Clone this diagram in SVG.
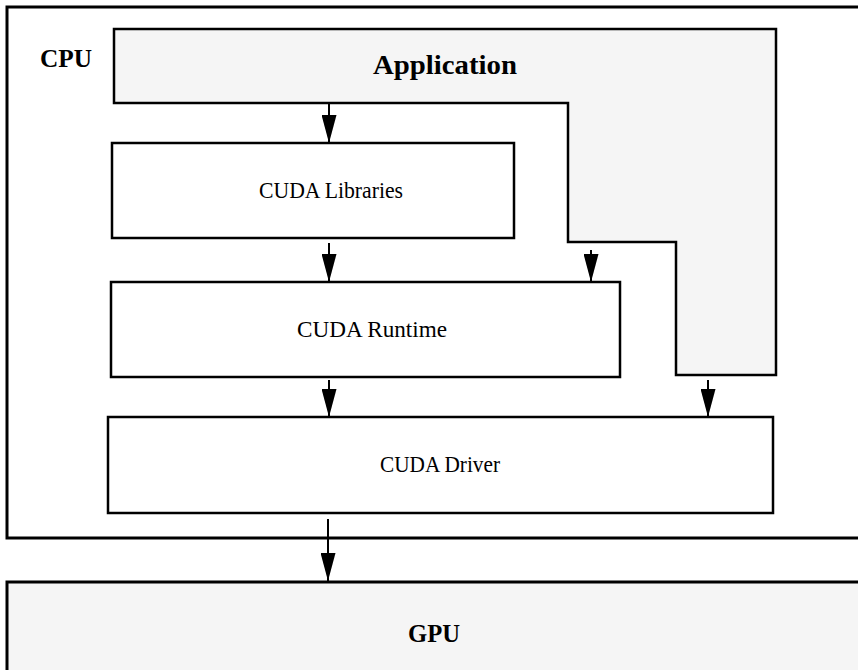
<svg xmlns="http://www.w3.org/2000/svg" width="858" height="670" viewBox="0 0 858 670">
<defs>
<style>
.box{fill:#ffffff;stroke:#000;stroke-width:2.5}
.gray{fill:#f5f5f5;stroke:#000;stroke-width:2.5}
.outer{fill:#ffffff;stroke:#000;stroke-width:3}
.lbl{font-family:"Liberation Serif","Times New Roman",serif;font-size:24px;fill:#000;text-anchor:middle}
.bold{font-family:"Liberation Serif","Times New Roman",serif;font-weight:bold;fill:#000;text-anchor:middle}
.conn{stroke:#000;stroke-width:2;fill:none;marker-end:url(#ah)}
</style>
<marker id="ah" markerUnits="userSpaceOnUse" viewBox="0 0 28 15" refX="28" refY="7.5" markerWidth="28" markerHeight="15" orient="auto">
<path d="M0,0 L28,7.5 L0,15 z" fill="#000"/>
</marker>
</defs>
<g id="cpu">
<rect class="outer" x="7" y="7" width="860" height="531"/>
<text class="bold" x="66" y="67" font-size="25" textLength="52" lengthAdjust="spacingAndGlyphs">CPU</text>
</g>
<g id="application">
<polygon class="gray" points="114,29 776,29 776,375 676,375 676,242 568,242 568,103 114,103"/>
<text class="bold" x="445" y="74" font-size="28" textLength="144" lengthAdjust="spacingAndGlyphs">Application</text>
</g>
<g id="libraries">
<rect class="box" x="112" y="143" width="402" height="95"/>
<text class="lbl" x="331" y="198" textLength="144" lengthAdjust="spacingAndGlyphs">CUDA Libraries</text>
</g>
<g id="runtime">
<rect class="box" x="111" y="282" width="509" height="95"/>
<text class="lbl" x="372" y="337" textLength="150" lengthAdjust="spacingAndGlyphs">CUDA Runtime</text>
</g>
<g id="driver">
<rect class="box" x="108" y="417" width="665" height="96"/>
<text class="lbl" x="440" y="472" textLength="120" lengthAdjust="spacingAndGlyphs">CUDA Driver</text>
</g>
<g id="gpu">
<rect class="gray" x="7" y="582" width="860" height="100" style="stroke-width:3"/>
<text class="bold" x="434" y="642" font-size="25" textLength="52" lengthAdjust="spacingAndGlyphs">GPU</text>
</g>
<g id="connectors">
<line class="conn" x1="329" y1="104" x2="329" y2="143"/>
<line class="conn" x1="329" y1="243" x2="329" y2="282"/>
<line class="conn" x1="591" y1="250" x2="591" y2="282"/>
<line class="conn" x1="329" y1="380" x2="329" y2="417"/>
<line class="conn" x1="708" y1="380" x2="708" y2="417"/>
<line class="conn" x1="328" y1="519" x2="328" y2="581"/>
</g>
</svg>
